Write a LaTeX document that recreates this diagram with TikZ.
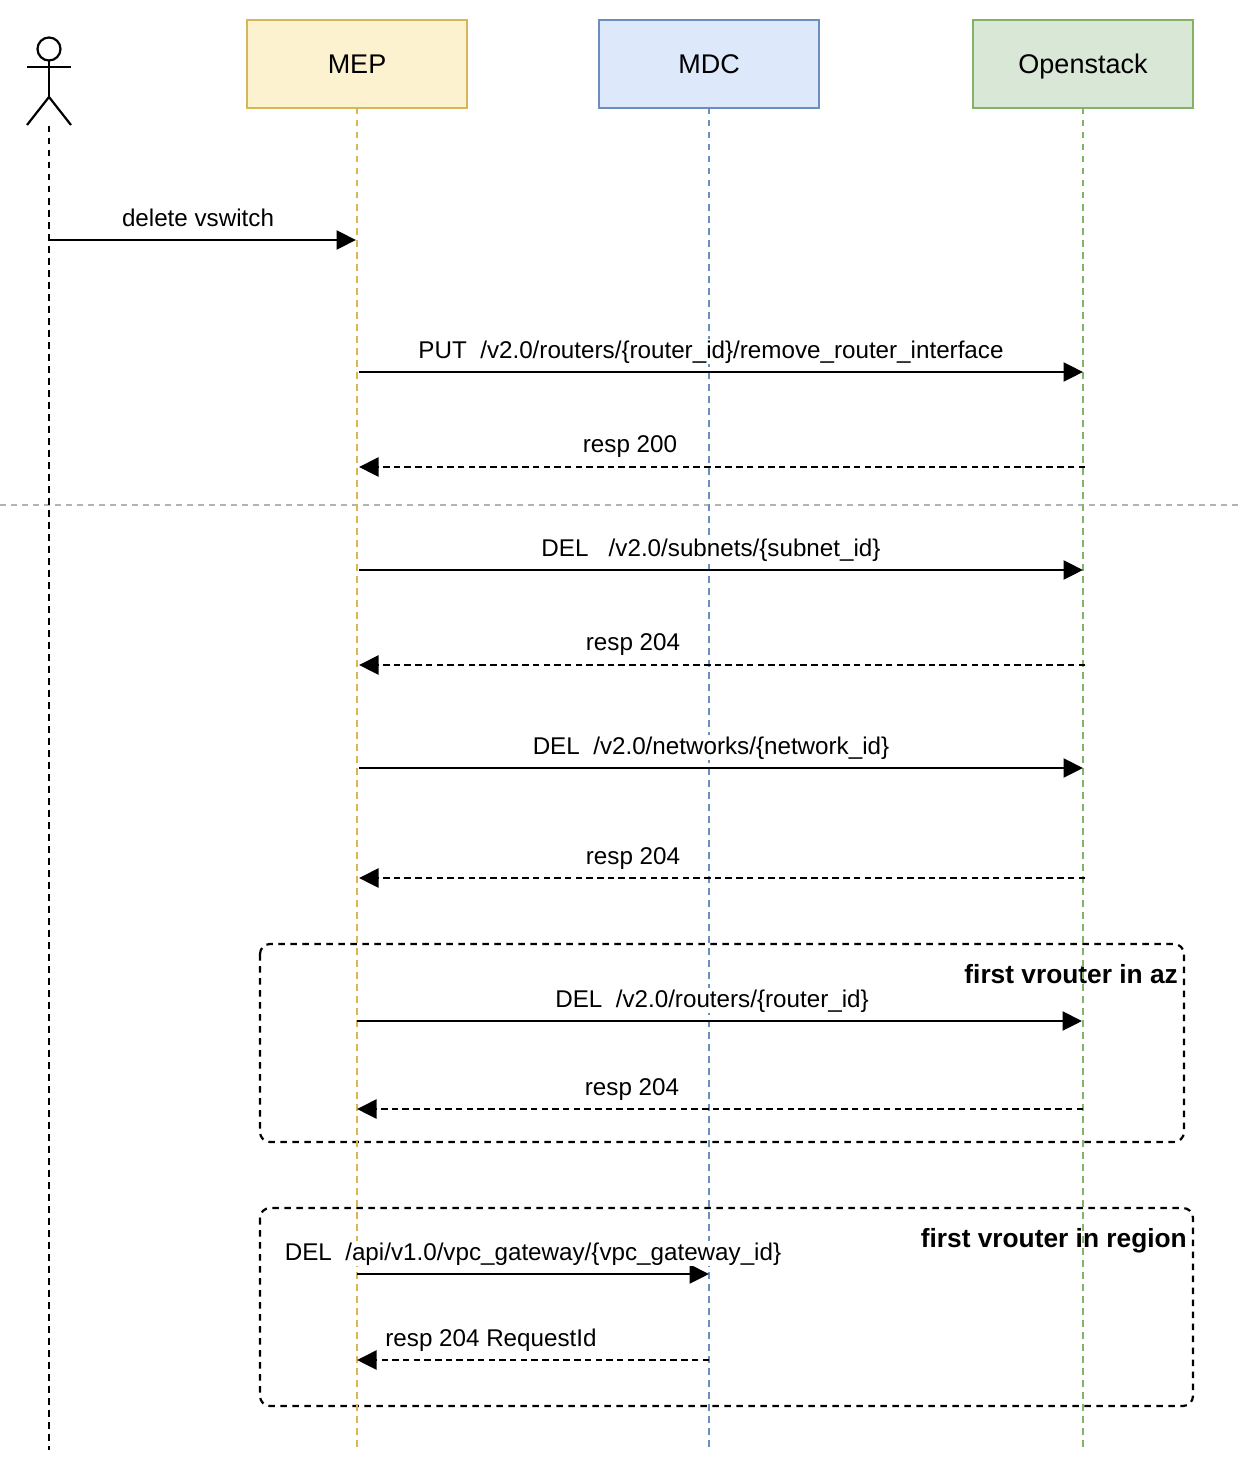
\documentclass[tikz,border=0pt]{standalone}
\usepackage{fontspec}
\setmainfont{Liberation Sans}
\usetikzlibrary{arrows.meta}
\definecolor{mepline}{HTML}{D6B656}
\definecolor{mepfill}{HTML}{FDF2CF}
\definecolor{mdcline}{HTML}{6C8EBF}
\definecolor{mdcfill}{HTML}{DDE8FA}
\definecolor{osline}{HTML}{82B366}
\definecolor{osfill}{HTML}{D9E7D6}
\definecolor{sepline}{HTML}{B3B3B3}
\tikzset{
  lane/.style={draw,line width=2.2pt,minimum width=220pt,minimum height=88pt,outer sep=0pt,inner sep=0pt,
    font=\fontsize{27}{30}\selectfont,text height=20pt,text depth=0pt},
  life/.style={line width=2.2pt,dash pattern=on 6.5pt off 5.5pt},
  msg/.style={line width=2.2pt,-{Triangle[length=19.5pt,width=19pt]}},
  reply/.style={msg,dash pattern=on 6.5pt off 4.2pt},
  lbl/.style={fill=white,anchor=base,inner sep=1pt},
  frame/.style={line width=2.2pt,dash pattern=on 6.5pt off 5.5pt,rounded corners=10pt},
  grouptitle/.style={font=\fontsize{26.3}{30}\selectfont\bfseries,inner sep=0pt,anchor=base east}
}
\begin{document}
\begin{tikzpicture}[x=1pt,y=-1pt,font=\fontsize{24.2}{28}\selectfont]
\useasboundingbox (0,0) rectangle (1240,1482);
% separator and groups
\coordinate (sepl) at (0,505);
\coordinate (sepr) at (1240,505);
\draw [sepline,line width=1.6pt,dash pattern=on 6pt off 5pt] (sepl)--(sepr);
\draw [frame] (260,944) rectangle (1184,1142);
\node (gaz) at (1178,983) [grouptitle] {first vrouter in az};
\draw [frame] (260,1208) rectangle (1193,1406);
\node (gregion) at (1187,1247) [grouptitle] {first vrouter in region};
% lanes
\node (mep) at (357,64) [lane,draw=mepline,fill=mepfill] {MEP};
\node (mdc) at (709,64) [lane,draw=mdcline,fill=mdcfill] {MDC};
\node (os) at (1083,64) [lane,draw=osline,fill=osfill] {Openstack};
\coordinate (mepend) at (357,1448);
\coordinate (mdcend) at (709,1448);
\coordinate (osend) at (1083,1448);
\draw [life,mepline] (mep.south)--(mepend);
\draw [life,mdcline] (mdc.south)--(mdcend);
\draw [life,osline] (os.south)--(osend);
% actor
\node (head) at (49,49) [circle,draw,line width=2.2pt,minimum size=23pt,inner sep=0pt,outer sep=0pt] {};
\coordinate (neck) at (49,97);
\coordinate (arml) at (27,67);
\coordinate (armr) at (71,67);
\coordinate (legl) at (27,125);
\coordinate (legr) at (71,125);
\coordinate (actortop) at (49,126);
\coordinate (actorend) at (49,1450);
\draw [line width=2.2pt] (head)--(neck);
\draw [line width=2.2pt] (arml)--(armr);
\draw [line width=2.2pt] (legl)--(neck)--(legr);
\draw [life] (actortop)--(actorend);
% messages
\coordinate (a1) at (49,240);
\coordinate (b1) at (356,240);
\draw [msg] (a1)--(b1);
\node (t1) at (198,226) [lbl] {delete vswitch};
\coordinate (a2) at (359,372);
\coordinate (b2) at (1083,372);
\draw [msg] (a2)--(b2);
\node (t2) at (711,358) [lbl] {PUT\ \ /v2.0/routers/\{router\_id\}/remove\_router\_interface};
\coordinate (a3) at (1085,467);
\coordinate (b3) at (359,467);
\draw [reply] (a3)--(b3);
\node (t3) at (630,452) [lbl] {resp 200};
\coordinate (a4) at (359,570);
\coordinate (b4) at (1083,570);
\draw [msg] (a4)--(b4);
\node (t4) at (711,556) [lbl] {DEL\ \ \ /v2.0/subnets/\{subnet\_id\}};
\coordinate (a5) at (1085,665);
\coordinate (b5) at (359,665);
\draw [reply] (a5)--(b5);
\node (t5) at (633,650) [lbl] {resp 204};
\coordinate (a6) at (359,768);
\coordinate (b6) at (1083,768);
\draw [msg] (a6)--(b6);
\node (t6) at (711,754) [lbl] {DEL\ \ /v2.0/networks/\{network\_id\}};
\coordinate (a7) at (1085,878);
\coordinate (b7) at (359,878);
\draw [reply] (a7)--(b7);
\node (t7) at (633,864) [lbl] {resp 204};
\coordinate (a8) at (357,1021);
\coordinate (b8) at (1082,1021);
\draw [msg] (a8)--(b8);
\node (t8) at (712,1007) [lbl] {DEL\ \ /v2.0/routers/\{router\_id\}};
\coordinate (a9) at (1083,1109);
\coordinate (b9) at (357,1109);
\draw [reply] (a9)--(b9);
\node (t9) at (632,1095) [lbl] {resp 204};
\coordinate (a10) at (357,1274);
\coordinate (b10) at (709,1274);
\draw [msg] (a10)--(b10);
\node (t10) at (533,1260) [lbl] {DEL\ \ /api/v1.0/vpc\_gateway/\{vpc\_gateway\_id\}};
\coordinate (a11) at (709,1360);
\coordinate (b11) at (357,1360);
\draw [reply] (a11)--(b11);
\node (t11) at (491,1346) [lbl] {resp 204 RequestId};
\end{tikzpicture}
\end{document}
